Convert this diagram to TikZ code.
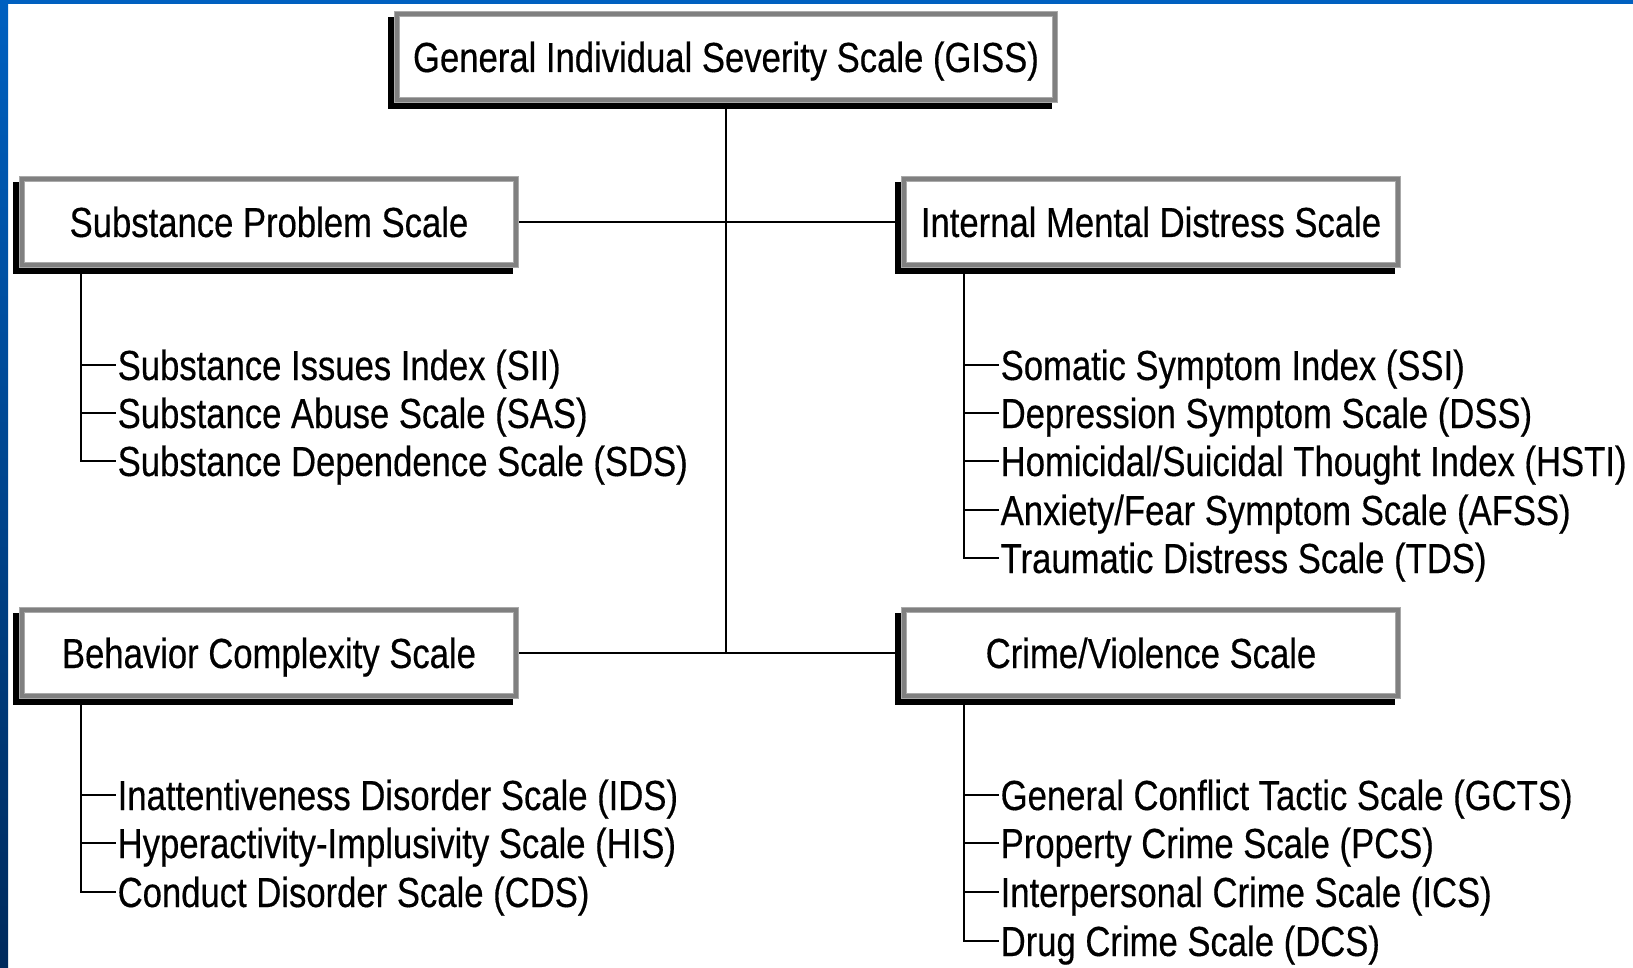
\documentclass[tikz,border=0pt]{standalone}
\usepackage{fontspec}
\setmainfont{Liberation Sans}[FakeStretch=0.825,FakeBold=0.4]
\usepackage{tikz}
\usetikzlibrary{calc}

\definecolor{slideblue}{RGB}{0,96,192}
\definecolor{slidedark}{RGB}{0,42,92}
\definecolor{framegray}{RGB}{128,128,128}
\definecolor{rimgray}{RGB}{170,170,170}

\begin{document}
\begin{tikzpicture}[x=1pt,y=-1pt]
	\tikzset{every node/.style={font=\fontsize{42}{48}\selectfont, text height=30pt, text depth=0pt}}
	\tikzset{scalebox/.style={rectangle, draw=rimgray, line width=1.2pt, double=framegray, double distance=4pt,
			fill=white, minimum width=494pt, minimum height=86pt, outer sep=3pt,
			preaction={fill=black, draw=black, line width=6.4pt, transform canvas={xshift=-6pt,yshift=-6pt}}}}
	\tikzset{item/.style={anchor=west, inner sep=1.5pt}}
	\tikzset{link/.style={line width=2.2pt}}
	%\tikzset{item/.style={anchor=base west}}
	\useasboundingbox (0,0) rectangle (1633,968);
	\fill[white] (0,0) rectangle (1633,968);
	\shade[top color=slideblue, bottom color=slidedark] (0,0) rectangle (8,968);
	\fill[slideblue] (0,0) rectangle (1633,4);

	% boxes
	\node[scalebox, minimum width=658pt] (giss) at (726,57) {General Individual Severity Scale (GISS)};
	\node[scalebox] (sps) at (269,222) {Substance Problem Scale};
	\node[scalebox] (imds) at (1151,222) {Internal Mental Distress Scale};
	\node[scalebox] (bcs) at (269,653) {Behavior Complexity Scale};
	\node[scalebox] (cvs) at (1151,653) {Crime/Violence Scale};

	\draw[link] (giss.south) -- (giss.south |- bcs.east);
	\draw[link] (sps.east) -- (imds.west);
	\draw[link] (bcs.east) -- (cvs.west);

	% substance
	\coordinate (spsroot) at (81,274);
	\node[item] (sii) at (116,365) {Substance Issues Index (SII)};
	\node[item] (sas) at (116,413) {Substance Abuse Scale (SAS)};
	\node[item] (sds) at (116,461) {Substance Dependence Scale (SDS)};
	\draw[link] (spsroot) |- (sii.west);
	\draw[link] (spsroot) |- (sas.west);
	\draw[link] (spsroot) |- (sds.west);

	% mental distress
	\coordinate (imdsroot) at (964,274);
	\node[item] (ssi) at (999,365) {Somatic Symptom Index (SSI)};
	\node[item] (dss) at (999,413) {Depression Symptom Scale (DSS)};
	\node[item] (hsti) at (999,461) {Homicidal/Suicidal Thought Index (HSTI)};
	\node[item] (afss) at (999,510) {Anxiety/Fear Symptom Scale (AFSS)};
	\node[item] (tds) at (999,558) {Traumatic Distress Scale (TDS)};
	\draw[link] (imdsroot) |- (ssi.west);
	\draw[link] (imdsroot) |- (dss.west);
	\draw[link] (imdsroot) |- (hsti.west);
	\draw[link] (imdsroot) |- (afss.west);
	\draw[link] (imdsroot) |- (tds.west);

	% behavior
	\coordinate (bcsroot) at (81,704);
	\node[item] (ids) at (116,795) {Inattentiveness Disorder Scale (IDS)};
	\node[item] (his) at (116,843) {Hyperactivity-Implusivity Scale (HIS)};
	\node[item] (cds) at (116,892) {Conduct Disorder Scale (CDS)};
	\draw[link] (bcsroot) |- (ids.west);
	\draw[link] (bcsroot) |- (his.west);
	\draw[link] (bcsroot) |- (cds.west);

	% crime
	\coordinate (cvsroot) at (964,704);
	\node[item] (gcts) at (999,795) {General Conflict Tactic Scale (GCTS)};
	\node[item] (pcs) at (999,843) {Property Crime Scale (PCS)};
	\node[item] (ics) at (999,892) {Interpersonal Crime Scale (ICS)};
	\node[item] (dcs) at (999,941) {Drug Crime Scale (DCS)};
	\draw[link] (cvsroot) |- (gcts.west);
	\draw[link] (cvsroot) |- (pcs.west);
	\draw[link] (cvsroot) |- (ics.west);
	\draw[link] (cvsroot) |- (dcs.west);
\end{tikzpicture}
\end{document}
